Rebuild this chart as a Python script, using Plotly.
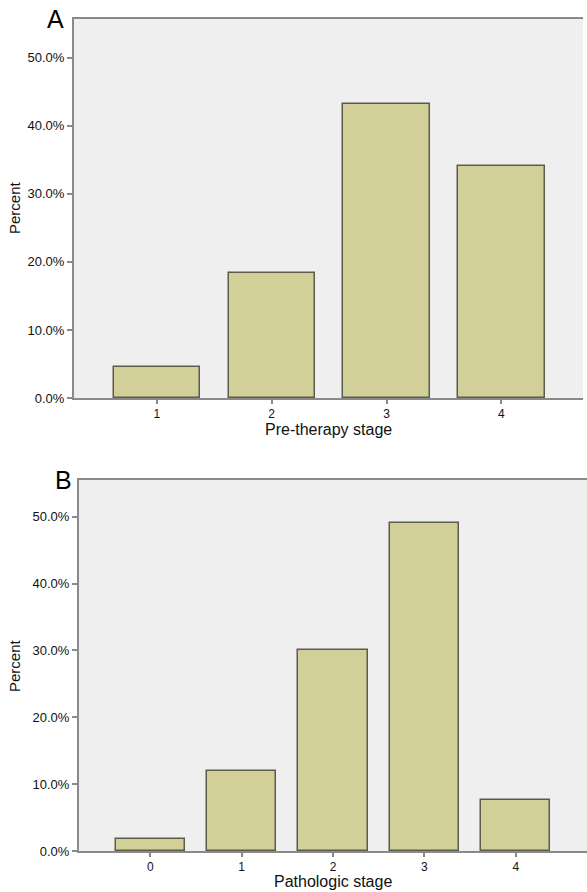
import plotly.graph_objects as go

# Data
stages_a = [1, 2, 3, 4]
percent_a = [4.6, 18.4, 43.2, 34.1]
stages_b = [0, 1, 2, 3, 4]
percent_b = [1.8, 12.0, 30.1, 49.1, 7.6]
y_ticks = [0, 10, 20, 30, 40, 50]
y_ticklabels = ["0.0%", "10.0%", "20.0%", "30.0%", "40.0%", "50.0%"]

W, H = 587, 892
BAR = "#d3cf98"
EDGE = "#5c5c4c"
AX = "#8a8a8a"
BG = "#efefef"
FONT = "Liberation Sans, Arial, sans-serif"

def px(x):
    return x / W

def py(y):
    return 1 - y / H

fig = go.Figure()
fig.add_trace(go.Bar(x=stages_a, y=percent_a, width=0.75, marker=dict(color=BAR, line=dict(color=EDGE, width=1.5)),
                     xaxis="x", yaxis="y", showlegend=False))
fig.add_trace(go.Bar(x=stages_b, y=percent_b, width=0.76, marker=dict(color=BAR, line=dict(color=EDGE, width=1.5)),
                     xaxis="x2", yaxis="y2", showlegend=False))

common_x = dict(showline=True, linecolor=AX, linewidth=2, mirror=True, ticks="outside", ticklen=4,
                tickcolor=AX, tickwidth=1.5, showgrid=False, zeroline=False, automargin=False,
                tickfont=dict(family=FONT, size=12, color="#111"))
common_y = dict(showline=True, linecolor=AX, linewidth=2, ticks="outside", ticklen=5,
                tickcolor=AX, tickwidth=1.5, showgrid=False, zeroline=False, automargin=False,
                tickvals=y_ticks, ticktext=y_ticklabels,
                tickfont=dict(family=FONT, size=13, color="#111"))

fig.update_layout(
    width=W, height=H,
    margin=dict(l=0, r=0, t=0, b=0, autoexpand=False),
    paper_bgcolor="white",
    plot_bgcolor=BG,
    bargap=0,
    xaxis=dict(domain=[px(74), px(583)], range=[0.28, 4.71], tickvals=stages_a, anchor="y", **common_x),
    yaxis=dict(domain=[py(398), py(19)], range=[0, 55.7], anchor="x", **common_y),
    xaxis2=dict(domain=[px(79), 1.0], range=[-0.78, 4.78], tickvals=stages_b, anchor="y2", **common_x),
    yaxis2=dict(domain=[py(851), py(480)], range=[0, 55.5], anchor="x2", **common_y),
    annotations=[
        dict(text="A", x=px(55), y=py(19), xref="paper", yref="paper", showarrow=False,
             font=dict(family=FONT, size=25, color="black"), xanchor="center", yanchor="middle"),
        dict(text="B", x=px(63), y=py(480), xref="paper", yref="paper", showarrow=False,
             font=dict(family=FONT, size=25, color="black"), xanchor="center", yanchor="middle"),
        dict(text="Percent", x=px(14), y=py(208), xref="paper", yref="paper", showarrow=False, textangle=-90,
             font=dict(family=FONT, size=15, color="#111"), xanchor="center", yanchor="middle"),
        dict(text="Percent", x=px(14), y=py(666), xref="paper", yref="paper", showarrow=False, textangle=-90,
             font=dict(family=FONT, size=15, color="#111"), xanchor="center", yanchor="middle"),
        dict(text="Pre-therapy stage", x=px(328), y=py(429), xref="paper", yref="paper", showarrow=False,
             font=dict(family=FONT, size=16, color="#111"), xanchor="center", yanchor="middle"),
        dict(text="Pathologic stage", x=px(333), y=py(881), xref="paper", yref="paper", showarrow=False,
             font=dict(family=FONT, size=16, color="#111"), xanchor="center", yanchor="middle"),
    ],
)

fig.write_html("out.html", config={"displayModeBar": False},
               post_script="document.body.style.margin='0';document.body.style.overflow='hidden';")
